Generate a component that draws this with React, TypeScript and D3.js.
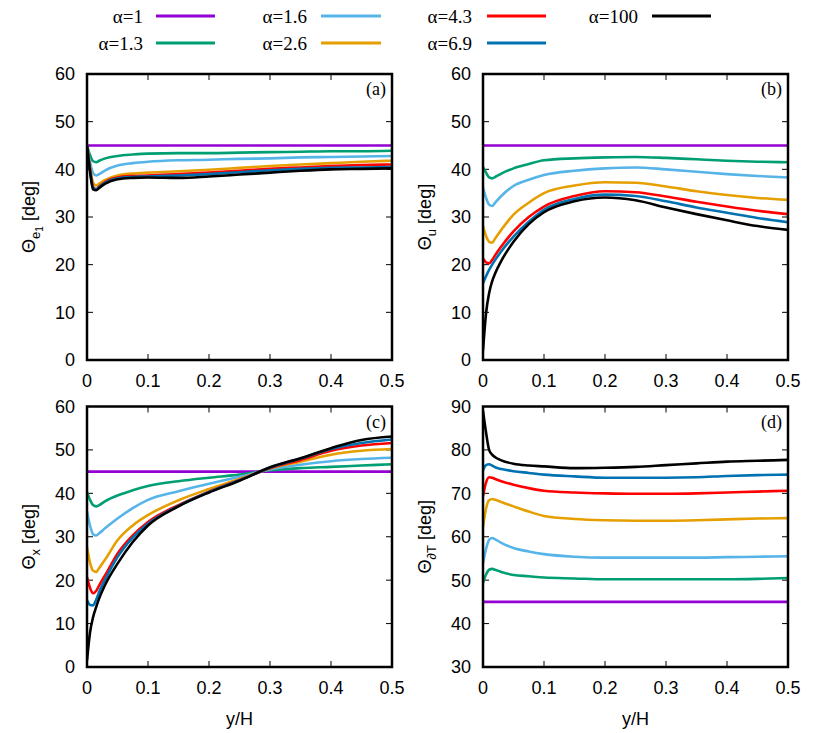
import React from "react";
import * as d3 from "d3";

// ---------- data ----------
const xs = [0, 0.005, 0.01, 0.015, 0.02, 0.03, 0.05, 0.075, 0.1, 0.15, 0.2, 0.25, 0.3, 0.35, 0.4, 0.45, 0.5];

const alphas = ["α=1", "α=1.3", "α=1.6", "α=2.6", "α=4.3", "α=6.9", "α=100"];
const colors = ["#9400d3", "#009e73", "#56b4e9", "#e69f00", "#ff0000", "#0072b2", "#000000"];

// panel (a): Theta_e1
const aA1 = [45, 45, 45, 45, 45, 45, 45, 45, 45, 45, 45, 45, 45, 45, 45, 45, 45];
const aA13 = [45, 43.0, 41.7, 41.5, 41.8, 42.3, 42.8, 43.1, 43.3, 43.4, 43.4, 43.5, 43.6, 43.7, 43.8, 43.8, 43.9];
const aA16 = [45, 41.5, 39.2, 38.7, 39.0, 39.8, 40.8, 41.3, 41.6, 41.9, 42.0, 42.2, 42.3, 42.5, 42.6, 42.7, 42.8];
const aA26 = [45, 40.5, 37.2, 36.6, 37.0, 37.8, 38.7, 39.1, 39.3, 39.6, 39.9, 40.3, 40.7, 41.0, 41.3, 41.6, 41.8];
const aA43 = [45, 40.0, 36.3, 35.8, 36.4, 37.4, 38.3, 38.6, 38.7, 39.0, 39.3, 39.7, 40.1, 40.4, 40.7, 40.9, 41.0];
const aA69 = [45, 39.8, 36.1, 35.8, 36.3, 37.2, 38.1, 38.4, 38.5, 38.7, 39.0, 39.4, 39.8, 40.1, 40.3, 40.4, 40.5];
const aA100 = [45, 39.5, 35.8, 35.6, 36.1, 37.0, 37.9, 38.2, 38.3, 38.2, 38.5, 38.9, 39.3, 39.7, 40.0, 40.1, 40.2];

// panel (b): Theta_u
const bA1 = [45, 45, 45, 45, 45, 45, 45, 45, 45, 45, 45, 45, 45, 45, 45, 45, 45];
const bA13 = [40.5, 39.3, 38.3, 38.1, 38.4, 39.1, 40.2, 41.1, 41.9, 42.3, 42.5, 42.6, 42.4, 42.1, 41.8, 41.6, 41.5];
const bA16 = [36.2, 34.0, 32.6, 32.3, 33.0, 34.4, 36.5, 37.8, 38.8, 39.7, 40.2, 40.4, 40.0, 39.5, 39.0, 38.6, 38.3];
const bA26 = [28.1, 26.0, 24.8, 24.6, 25.5, 27.3, 30.5, 33.0, 35.0, 36.6, 37.3, 37.2, 36.4, 35.4, 34.6, 34.0, 33.6];
const bA43 = [21.3, 20.5, 20.3, 21.0, 22.0, 23.8, 27.0, 30.0, 32.2, 34.4, 35.4, 35.2, 34.3, 33.2, 32.2, 31.3, 30.6];
const bA69 = [16.1, 17.6, 18.9, 20.0, 21.0, 22.8, 25.9, 29.0, 31.5, 33.8, 34.7, 34.4, 33.3, 32.0, 30.9, 29.8, 28.9];
const bA100 = [2.0, 9.8, 14.0, 16.5, 18.2, 20.8, 24.8, 28.5, 31.0, 33.3, 34.1, 33.5, 32.0, 30.6, 29.3, 28.1, 27.3];

// panel (c): Theta_x
const cA1 = [45, 45, 45, 45, 45, 45, 45, 45, 45, 45, 45, 45, 45, 45, 45, 45, 45];
const cA13 = [40.3, 38.5, 37.3, 37.0, 37.3, 38.2, 39.5, 40.7, 41.7, 42.8, 43.6, 44.3, 45.3, 45.8, 46.1, 46.4, 46.7];
const cA16 = [35.8, 32.5, 30.6, 30.3, 30.8, 32.0, 34.2, 36.6, 38.5, 40.5, 42.2, 43.8, 45.5, 46.6, 47.4, 47.9, 48.2];
const cA26 = [27.6, 24.0, 22.2, 21.9, 22.8, 24.8, 29.2, 32.6, 35.0, 38.4, 41.0, 43.3, 45.7, 47.3, 48.9, 49.8, 50.2];
const cA43 = [20.7, 18.2, 17.0, 17.5, 18.8, 21.2, 26.1, 30.3, 33.4, 37.3, 40.4, 43.1, 45.8, 47.7, 49.8, 51.0, 51.6];
const cA69 = [15.4, 14.3, 14.2, 15.5, 17.3, 20.2, 25.3, 29.8, 33.0, 37.1, 40.3, 43.0, 45.9, 48.0, 50.2, 51.6, 52.4];
const cA100 = [1.5, 8.0, 11.5, 13.8, 15.8, 19.0, 23.8, 28.8, 32.6, 37.0, 40.2, 42.9, 46.0, 48.1, 50.4, 52.3, 53.1];

// panel (d): Theta_dT
const dA1 = [45, 45, 45, 45, 45, 45, 45, 45, 45, 45, 45, 45, 45, 45, 45, 45, 45];
const dA13 = [49.4, 51.3, 52.4, 52.6, 52.4, 51.9, 51.2, 50.9, 50.6, 50.4, 50.2, 50.2, 50.2, 50.2, 50.2, 50.3, 50.5];
const dA16 = [53.9, 57.2, 59.3, 59.7, 59.4, 58.6, 57.4, 56.6, 56.0, 55.4, 55.2, 55.2, 55.2, 55.2, 55.3, 55.4, 55.5];
const dA26 = [62.3, 66.5, 68.4, 68.7, 68.5, 68.0, 67.0, 65.8, 64.8, 64.1, 63.8, 63.7, 63.7, 63.8, 64.0, 64.2, 64.3];
const dA43 = [69.3, 72.5, 73.7, 73.6, 73.3, 72.8, 72.0, 71.2, 70.6, 70.2, 70.0, 69.9, 69.9, 70.0, 70.2, 70.4, 70.6];
const dA69 = [75.3, 76.5, 76.7, 76.4, 76.0, 75.6, 75.1, 74.7, 74.3, 73.9, 73.6, 73.6, 73.6, 73.7, 74.0, 74.2, 74.3];
const dA100 = [89.0, 84.0, 80.0, 78.9, 78.3, 77.6, 76.8, 76.4, 76.2, 75.8, 75.9, 76.1, 76.5, 76.9, 77.3, 77.5, 77.7];

const xTicks = [0, 0.1, 0.2, 0.3, 0.4, 0.5];
const xTickLabels = ["0", "0.1", "0.2", "0.3", "0.4", "0.5"];
const yTicksA = [0, 10, 20, 30, 40, 50, 60];
const yTicksD = [30, 40, 50, 60, 70, 80, 90];

const SANS = "'Liberation Sans', Arial, Helvetica, sans-serif";
const SERIF = "'Liberation Serif', 'Times New Roman', serif";

type PanelProps = {
  left: number; right: number; top: number; bottom: number;
  yDomain: [number, number]; yTicks: number[];
  series: number[][]; tag: string; label: React.ReactNode;
};

function Panel({ left, right, top, bottom, yDomain, yTicks, series, tag, label }: PanelProps) {
  const x = d3.scaleLinear().domain([0, 0.5]).range([left, right]);
  const y = d3.scaleLinear().domain(yDomain).range([bottom, top]);
  const line = d3.line<number>().x((_, i) => x(xs[i])).y((v) => y(v)).curve(d3.curveMonotoneX);
  const tl = 6;
  const cy = (top + bottom) / 2;
  return (
    <g>
      <defs>
        <clipPath id={"clip" + tag}>
          <rect x={left} y={top} width={right - left} height={bottom - top} />
        </clipPath>
      </defs>
      {xTicks.map((t, i) => (
        <g key={"xt" + i}>
          <line x1={x(t)} x2={x(t)} y1={bottom} y2={bottom - tl} stroke="#000" strokeWidth={1} />
          <line x1={x(t)} x2={x(t)} y1={top} y2={top + tl} stroke="#000" strokeWidth={1} />
          <text x={x(t)} y={bottom + 27} textAnchor="middle" fontFamily={SANS} fontSize={18}>{xTickLabels[i]}</text>
        </g>
      ))}
      {yTicks.map((t, i) => (
        <g key={"yt" + i}>
          <line x1={left} x2={left + tl} y1={y(t)} y2={y(t)} stroke="#000" strokeWidth={1} />
          <line x1={right} x2={right - tl} y1={y(t)} y2={y(t)} stroke="#000" strokeWidth={1} />
          <text x={left - 12} y={y(t)} dy="0.36em" textAnchor="end" fontFamily={SANS} fontSize={18}>{t}</text>
        </g>
      ))}
      <g clipPath={`url(#clip${tag})`}>
        {series.map((s, i) => (
          <path key={i} d={line(s) || ""} fill="none" stroke={colors[i]} strokeWidth={2.6} strokeLinejoin="round" />
        ))}
      </g>
      <rect x={left} y={top} width={right - left} height={bottom - top} fill="none" stroke="#000" strokeWidth={2.5} />
      <text x={right - 6} y={top + 21} textAnchor="end" fontFamily={SERIF} fontSize={18}>({tag})</text>
      <text transform={`translate(${left - 52},${cy}) rotate(-90)`} textAnchor="middle" fontFamily={SANS} fontSize={18}>{label}</text>
    </g>
  );
}

export default function App() {
  const legendCols = [
    { tx: 143, l1: 156, l2: 215 },
    { tx: 307, l1: 321, l2: 381 },
    { tx: 472, l1: 487, l2: 546 },
    { tx: 638, l1: 652, l2: 711 },
  ];
  const rowsY = [16, 43];
  return (
    <svg width={830} height={733} style={{ position: "absolute", left: 0, top: 0, background: "#fff" }}>
      <rect x={0} y={0} width={830} height={733} fill="#fff" />
      {alphas.map((a, i) => {
        const col = legendCols[Math.floor(i / 2)];
        const ry = rowsY[i % 2];
        return (
          <g key={a}>
            <text x={col.tx} y={ry + 6.5} textAnchor="end" fontFamily={SERIF} fontSize={19}>{a}</text>
            <line x1={col.l1} x2={col.l2} y1={ry} y2={ry} stroke={colors[i]} strokeWidth={3} />
          </g>
        );
      })}
      <Panel left={87} right={392} top={74} bottom={360} yDomain={[0, 60]} yTicks={yTicksA}
        series={[aA1, aA13, aA16, aA26, aA43, aA69, aA100]} tag="a"
        label={<>Θ<tspan dy={5} fontSize={13}>e</tspan><tspan dy={3} fontSize={10}>1</tspan><tspan dy={-8}> [deg]</tspan></>} />
      <Panel left={483} right={788} top={74} bottom={360} yDomain={[0, 60]} yTicks={yTicksA}
        series={[bA1, bA13, bA16, bA26, bA43, bA69, bA100]} tag="b"
        label={<>Θ<tspan dy={5} fontSize={13}>u</tspan><tspan dy={-5}> [deg]</tspan></>} />
      <Panel left={87} right={392} top={406.5} bottom={667} yDomain={[0, 60]} yTicks={yTicksA}
        series={[cA1, cA13, cA16, cA26, cA43, cA69, cA100]} tag="c"
        label={<>Θ<tspan dy={5} fontSize={13}>x</tspan><tspan dy={-5}> [deg]</tspan></>} />
      <Panel left={483} right={788} top={406.5} bottom={667} yDomain={[30, 90]} yTicks={yTicksD}
        series={[dA1, dA13, dA16, dA26, dA43, dA69, dA100]} tag="d"
        label={<>Θ<tspan dy={5} fontSize={13}>∂T</tspan><tspan dy={-5}> [deg]</tspan></>} />
      <text x={239.5} y={725} textAnchor="middle" fontFamily={SANS} fontSize={18}>y/H</text>
      <text x={635.5} y={725} textAnchor="middle" fontFamily={SANS} fontSize={18}>y/H</text>
    </svg>
  );
}
